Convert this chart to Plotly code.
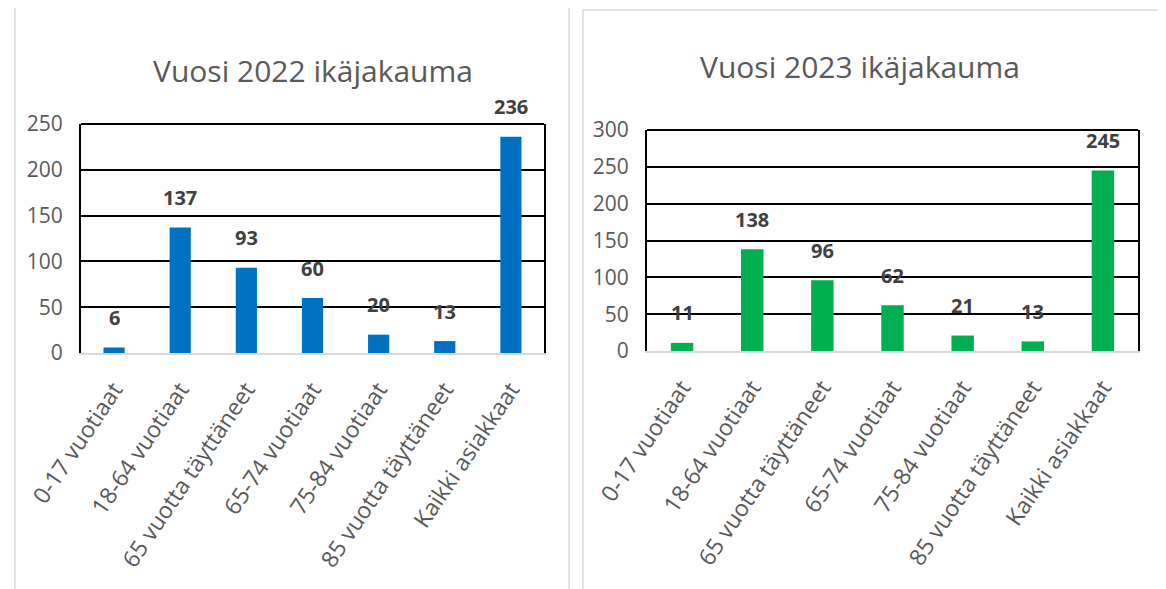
import plotly.graph_objects as go
from plotly.subplots import make_subplots

categories = ["0-17 vuotiaat", "18-64 vuotiaat", "65 vuotta täyttäneet", "65-74 vuotiaat",
              "75-84 vuotiaat", "85 vuotta täyttäneet", "Kaikki asiakkaat"]
values_2022 = [6, 137, 93, 60, 20, 13, 236]
values_2023 = [11, 138, 96, 62, 21, 13, 245]
title_2022 = "Vuosi 2022 ikäjakauma"
title_2023 = "Vuosi 2023 ikäjakauma"
yticks_2022 = [0, 50, 100, 150, 200, 250]
yticks_2023 = [0, 50, 100, 150, 200, 250, 300]

W, H = 1166, 589
OFF = 8  # default page body margin
FONT = "Open Sans, sans-serif"

fig = make_subplots(rows=1, cols=2)

fig.add_trace(go.Bar(x=categories, y=values_2022, marker_color="#0070C0",
                     marker_line_width=0, showlegend=False, hoverinfo="x+y"), row=1, col=1)
fig.add_trace(go.Bar(x=categories, y=values_2023, marker_color="#00B050",
                     marker_line_width=0, showlegend=False, hoverinfo="x+y"), row=1, col=2)

def px_x(p):
    return (p - OFF) / W

def px_y(p):
    return 1 - (p - OFF) / H

fig.update_layout(
    width=W, height=H,
    margin=dict(l=0, r=0, t=0, b=0, autoexpand=False),
    paper_bgcolor="white", plot_bgcolor="white",
    bargap=0.68,
    xaxis=dict(domain=[px_x(81), px_x(544)]),
    yaxis=dict(domain=[px_y(353), px_y(124)]),
    xaxis2=dict(domain=[px_x(647), px_x(1138)]),
    yaxis2=dict(domain=[px_y(351), px_y(130)]),
)

fig.update_xaxes(showline=True, linecolor="#D9D9D9", linewidth=2, showgrid=False,
                 automargin=False, tickangle=-56, ticks="", ticklabelstandoff=12,
                 tickfont=dict(family=FONT, size=23, color="#595959"))

fig.update_yaxes(showline=True, linecolor="black", linewidth=2, mirror=True,
                 automargin=False, showgrid=True, gridcolor="black", gridwidth=2,
                 zeroline=False, ticks="", ticklabelstandoff=12,
                 tickfont=dict(family=FONT, size=21, color="#595959"))
fig.update_yaxes(range=[0, 250], tickvals=yticks_2022, row=1, col=1)
fig.update_yaxes(range=[0, 300], tickvals=yticks_2023, row=1, col=2)

# top border lines of plot areas
for xr, yr in (("x domain", "y domain"), ("x2 domain", "y2 domain")):
    fig.add_shape(type="line", xref=xr, yref=yr, x0=0, x1=1, y0=1, y1=1,
                  line=dict(color="black", width=2))

# panel borders
fig.add_shape(type="rect", xref="paper", yref="paper", x0=px_x(15), x1=px_x(569),
              y0=px_y(620), y1=px_y(6), line=dict(color="#D9D9D9", width=1.5), layer="below")
fig.add_shape(type="rect", xref="paper", yref="paper", x0=px_x(583), x1=px_x(1160),
              y0=px_y(620), y1=px_y(10), line=dict(color="#D9D9D9", width=1.5), layer="below")

# data labels
for xref, yref, vals in (("x", "y", values_2022), ("x2", "y2", values_2023)):
    for c, v in zip(categories, vals):
        fig.add_annotation(x=c, y=v, xref=xref, yref=yref, text=f"<b>{v}</b>",
                           showarrow=False, yshift=30,
                           font=dict(family=FONT, size=20, color="#404040"))

# titles
fig.add_annotation(x=px_x(313), y=px_y(70), xref="paper", yref="paper", text=title_2022,
                   xanchor="center", yanchor="middle",
                   showarrow=False, font=dict(family=FONT, size=30, color="#595959"))
fig.add_annotation(x=px_x(860), y=px_y(67), xref="paper", yref="paper", text=title_2023,
                   xanchor="center", yanchor="middle",
                   showarrow=False, font=dict(family=FONT, size=30, color="#595959"))

fig.write_html("out.html")
